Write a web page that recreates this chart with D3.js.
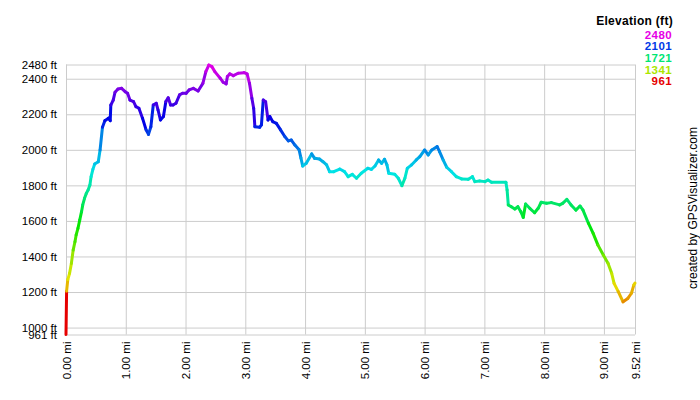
<!DOCTYPE html>
<html><head><meta charset="utf-8">
<script src="https://cdn.jsdelivr.net/npm/d3@7"></script>
<style>
body{margin:0;background:#fff;}
svg{display:block;font-family:"Liberation Sans",Arial,sans-serif;}
</style></head>
<body>
<svg id="chart" width="700" height="400"></svg>
<script>
const miles = [0.00,0.01,0.03,0.06,0.09,0.12,0.15,0.17,0.20,0.23,0.26,0.28,0.31,0.34,0.37,0.40,0.42,0.45,0.48,0.54,0.57,0.61,0.65,0.71,0.74,0.75,0.79,0.82,0.87,0.93,0.99,1.03,1.07,1.13,1.17,1.22,1.28,1.34,1.38,1.42,1.46,1.51,1.54,1.58,1.63,1.67,1.71,1.75,1.79,1.84,1.90,1.95,2.01,2.06,2.13,2.21,2.29,2.34,2.39,2.44,2.49,2.58,2.63,2.68,2.70,2.74,2.80,2.88,2.98,3.03,3.07,3.11,3.14,3.16,3.24,3.27,3.30,3.34,3.38,3.41,3.46,3.52,3.59,3.66,3.72,3.77,3.83,3.90,3.93,3.96,4.02,4.11,4.16,4.24,4.30,4.36,4.41,4.48,4.58,4.66,4.72,4.79,4.86,4.94,5.05,5.11,5.17,5.23,5.28,5.33,5.37,5.40,5.50,5.56,5.62,5.67,5.71,5.78,5.86,5.92,6.00,6.06,6.12,6.21,6.25,6.31,6.37,6.45,6.53,6.62,6.73,6.80,6.84,6.92,7.01,7.06,7.12,7.36,7.38,7.40,7.45,7.51,7.56,7.61,7.65,7.69,7.76,7.84,7.90,7.95,8.04,8.12,8.26,8.31,8.38,8.45,8.53,8.60,8.65,8.74,8.82,8.90,8.99,9.07,9.13,9.17,9.24,9.32,9.40,9.46,9.50,9.52];
const elevations = [961,1205,1270,1305,1361,1436,1483,1521,1558,1605,1652,1690,1727,1755,1774,1802,1849,1890,1920,1933,1999,2127,2164,2178,2164,2252,2280,2324,2342,2346,2327,2318,2280,2271,2243,2234,2178,2112,2087,2130,2252,2262,2224,2168,2187,2271,2293,2252,2252,2262,2309,2318,2318,2337,2346,2331,2374,2440,2477,2468,2440,2403,2380,2371,2412,2427,2417,2431,2434,2427,2374,2290,2234,2130,2127,2140,2280,2271,2168,2187,2158,2149,2112,2075,2050,2055,2027,2000,1955,1909,1924,1977,1952,1948,1933,1915,1877,1877,1892,1877,1849,1862,1840,1868,1896,1890,1909,1943,1924,1947,1915,1868,1862,1840,1798,1840,1896,1915,1943,1962,1999,1971,1999,2018,1990,1943,1902,1877,1849,1836,1834,1849,1821,1825,1821,1830,1817,1817,1774,1690,1680,1667,1680,1652,1620,1695,1671,1646,1671,1705,1699,1703,1690,1699,1721,1690,1661,1684,1661,1587,1530,1464,1408,1361,1305,1249,1202,1145,1164,1193,1239,1250];
const yTicks = [2480,2400,2200,2000,1800,1600,1400,1200,1000,961];
const xTicks = [0,1,2,3,4,5,6,7,8,9,9.52];
const legendValues = [2480,2101,1721,1341,961];

const svg = d3.select("#chart");
const x = d3.scaleLinear().domain([0, 9.52]).range([66, 635]);
const y = d3.scaleLinear().domain([961, 2480]).range([334.5, 64.5]);
const hue = d3.scaleLinear().domain([961, 2480]).range([0, 300]);
const color = v => d3.hsl(hue(v), 1, 0.45).formatHex();

// grid + y axis
const yAxis = d3.axisLeft(y).tickValues(yTicks).tickFormat(d => d + " ft")
  .tickSize(-(x.range()[1]-x.range()[0])).tickPadding(9);
const gy = svg.append("g").attr("transform", `translate(${x.range()[0]},0)`).call(yAxis);
gy.select(".domain").remove();
gy.selectAll("line").attr("stroke", "#cccccc");
gy.selectAll("text").attr("font-size", 11.5).attr("fill", "#000").attr("font-family", "Liberation Sans, Arial, sans-serif");

const xAxis = d3.axisBottom(x).tickValues(xTicks).tickFormat(d => d3.format(".2f")(d) + " mi")
  .tickSize(-(y.range()[0]-y.range()[1]));
const gx = svg.append("g").attr("transform", `translate(0,${y.range()[0]})`).call(xAxis);
gx.select(".domain").remove();
gx.selectAll("line").attr("stroke", "#cccccc");
gx.selectAll("text").attr("font-size", 11.5).attr("fill", "#000").attr("font-family", "Liberation Sans, Arial, sans-serif")
  .attr("y", 0).attr("x", -7).attr("dy", "0.35em").attr("transform", "rotate(-90)").style("text-anchor", "end");

// profile segments
const pts = miles.map((m, i) => ({m, e: elevations[i]}));
const segs = d3.pairs(pts);
svg.append("g").selectAll("line").data(segs).join("line")
  .attr("x1", d => x(d[0].m)).attr("y1", d => y(d[0].e))
  .attr("x2", d => x(d[1].m)).attr("y2", d => y(d[1].e))
  .attr("stroke", d => color(d[0].e)).attr("stroke-width", 3).attr("stroke-linecap", "round");

// legend
svg.append("text").attr("x", 673).attr("y", 25).attr("text-anchor", "end")
  .attr("font-size", 12).attr("font-weight", "bold").attr("letter-spacing", 0.3).text("Elevation (ft)");
svg.append("g").selectAll("text").data(legendValues).join("text")
  .attr("x", 672).attr("y", (d, i) => 38.5 + i * 11.7).attr("text-anchor", "end")
  .attr("font-size", 11.5).attr("font-weight", "bold").attr("letter-spacing", 0.4).attr("fill", d => color(d)).text(d => d);

// credit
svg.append("text").attr("transform", "translate(697,208) rotate(-90)").attr("text-anchor", "middle")
  .attr("font-size", 12).attr("fill", "#000").text("created by GPSVisualizer.com");
</script>
</body></html>
